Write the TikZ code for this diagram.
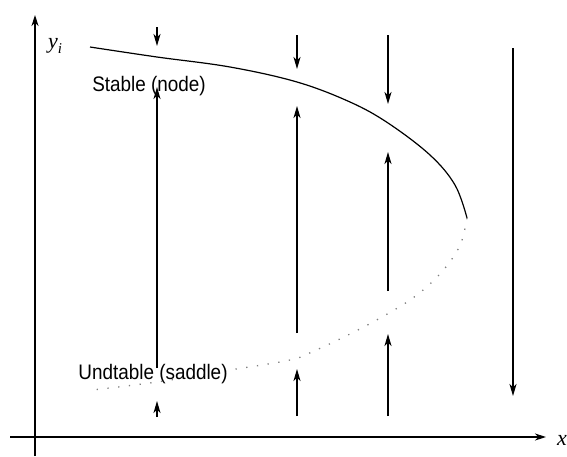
\documentclass[tikz,border=0pt]{standalone}
\usepackage{fontspec}
\setmainfont{Liberation Sans}
\newfontfamily\lblfont[FakeStretch=0.9]{Liberation Sans}
\newfontfamily\mathitfont{Liberation Serif}
\usetikzlibrary{arrows.meta}
\begin{document}
\begin{tikzpicture}[x=1pt,y=-1pt,
  axis/.style={line width=1.3pt,-{Stealth[length=11pt,width=7pt,inset=3.5pt]}},
  flow/.style={line width=1.3pt,-{Stealth[length=12pt,width=7pt,inset=3.5pt]}},
  lbl/.style={font=\lblfont\fontsize{21}{23}\selectfont,inner sep=0pt},
  varlbl/.style={font=\mathitfont\itshape\fontsize{22}{24}\selectfont,inner sep=0pt},
  stablebranch/.style={line width=1.2pt},
  unstablebranch/.style={line width=1.3pt,gray,dash pattern=on 1.3pt off 9.5pt}]
\useasboundingbox (0,0) rectangle (567,456);
% axes
\coordinate (yb) at (35,456);
\coordinate (yt) at (35,15);
\coordinate (xl) at (10,437);
\coordinate (xr) at (546,437);
\draw[axis] (yb) -- (yt);
\draw[axis] (xl) -- (xr);
\node[varlbl,anchor=west] (xlab) at (557,440) {x};
\node[varlbl] (ylab) at (55,46) {y\raisebox{-5pt}{\fontsize{15}{16}\selectfont i}};
% branches
\draw[stablebranch] plot[smooth,tension=0.6] coordinates {(90,47) (157,57) (230,67) (297,82) (350,102) (388,123) (430,155) (455,185) (467,218)};
\draw[unstablebranch] plot[smooth,tension=0.6] coordinates {(467,218) (461,243) (449,263) (431,283) (410,300) (382,317) (348,335) (314,351) (290,360) (230,370) (157,382) (92,390)};
% labels
\node[lbl] (stab) at (149,86) {Stable (node)};
\node[lbl] (unst) at (153,374) {Undtable (saddle)};
% column 1
\coordinate (a1) at (157,27); \coordinate (a2) at (157,46);
\coordinate (b1) at (157,368); \coordinate (b2) at (157,87);
\coordinate (c1) at (157,417); \coordinate (c2) at (157,401);
% column 2
\coordinate (d1) at (297,35); \coordinate (d2) at (297,69);
\coordinate (e1) at (297,333); \coordinate (e2) at (297,106);
\coordinate (f1) at (297,416); \coordinate (f2) at (297,369);
% column 3
\coordinate (g1) at (388,35); \coordinate (g2) at (388,104);
\coordinate (h1) at (388,291); \coordinate (h2) at (388,152);
\coordinate (i1) at (388,416); \coordinate (i2) at (388,334);
% column 4
\coordinate (j1) at (513,48); \coordinate (j2) at (513,396);
\foreach \s/\t in {a1/a2,b1/b2,c1/c2,d1/d2,e1/e2,f1/f2,g1/g2,h1/h2,i1/i2,j1/j2}
  \draw[flow] (\s) -- (\t);
\end{tikzpicture}
\end{document}
